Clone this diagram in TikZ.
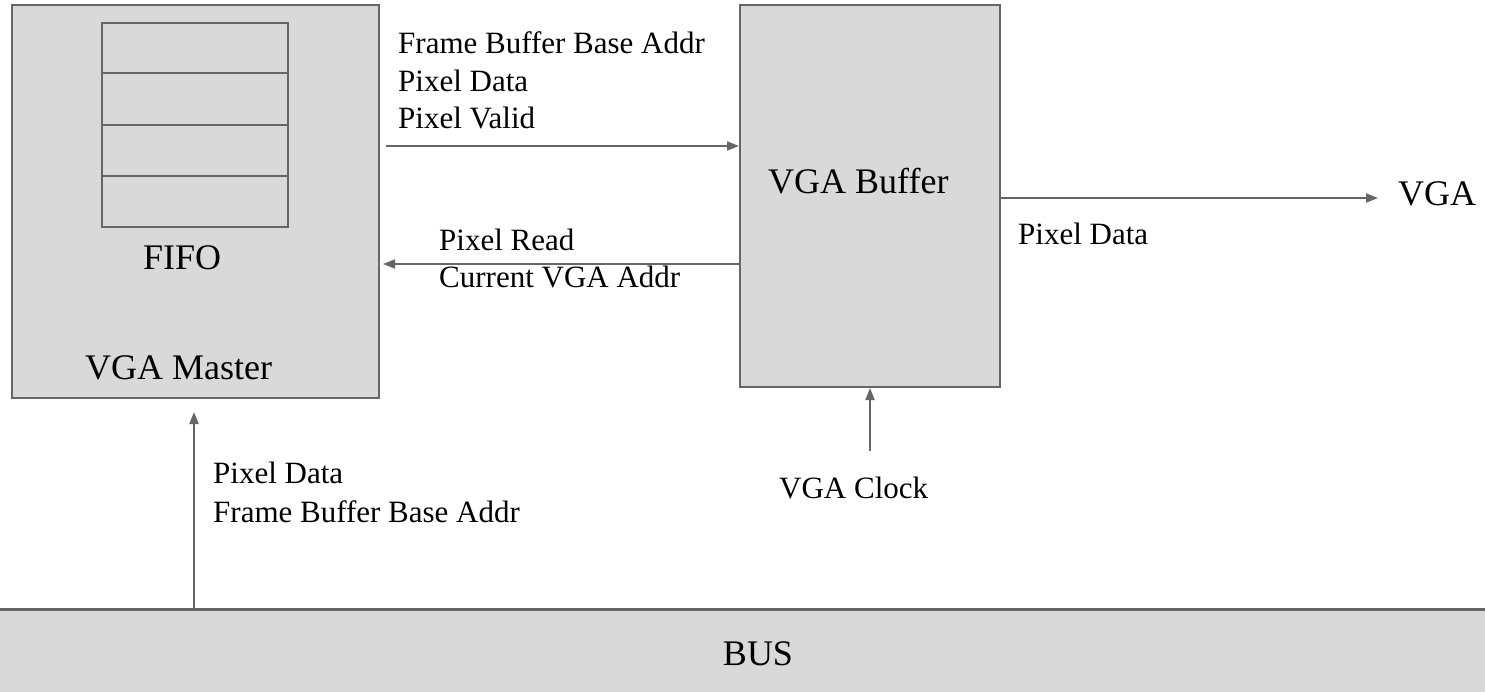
\documentclass[tikz,border=0pt]{standalone}
\usepackage{fontspec}
\setmainfont{Liberation Serif}
\usetikzlibrary{arrows.meta,calc}
\definecolor{edgegray}{RGB}{102,102,102}
\definecolor{boxfill}{RGB}{217,217,217}
\tikzset{
  blockbox/.style={draw=edgegray, fill=boxfill, line width=2pt, inner sep=0pt},
  fifobox/.style={draw=edgegray, line width=2pt, inner sep=0pt},
  bigtext/.style={inner sep=0pt, anchor=base west, font=\fontsize{36}{43}\selectfont},
  smalltext/.style={inner sep=0pt, anchor=base west, font=\fontsize{31}{37.5}\selectfont},
  sigarrow/.style={draw=edgegray, line width=1.8pt, -{Triangle[length=12pt,width=9pt]}},
}
\begin{document}
\begin{tikzpicture}[x=1pt,y=-1pt]
\useasboundingbox (0,0) rectangle (1485,692);

% blocks
\node[blockbox, minimum width=367pt, minimum height=393pt] (master) at (195.5,201.5) {};
\node[fifobox, minimum width=186pt, minimum height=204pt] (fifo) at (195,125) {};
\foreach \f in {0.25,0.5,0.75}
  \draw[edgegray, line width=2pt] ($(fifo.north west)!\f!(fifo.south west)$) -- ($(fifo.north east)!\f!(fifo.south east)$);
\node[bigtext] (fifolbl) at (143,270) {FIFO};
\node[bigtext] (masterlbl) at (85,379) {VGA Master};

\node[blockbox, minimum width=260pt, minimum height=382pt] (buffer) at (870,196) {};
\node[bigtext] (bufferlbl) at (768,194) {VGA Buffer};

\node[bigtext] (vga) at (1398,206) {VGA};

% bus
\node[fill=boxfill, inner sep=0pt, minimum width=1540pt, minimum height=100pt, anchor=north] (bus) at (758,609) {};
\draw[edgegray, line width=3pt] (bus.north west) -- (bus.north east);
\node[bigtext, anchor=base] (buslbl) at (758,665) {BUS};

% levels
\coordinate (yone) at (0,146);
\coordinate (ytwo) at (0,264);
\coordinate (ythree) at (0,198);
\coordinate (clk) at (870,451);

% connectors
\draw[sigarrow, shorten <=6pt] (master.east |- yone) -- (buffer.west |- yone);
\draw[sigarrow, shorten >=3pt] (buffer.west |- ytwo) -- (master.east |- ytwo);
\draw[sigarrow, shorten >=20pt] (buffer.east |- ythree) -- (vga.west |- ythree);
\draw[sigarrow] (clk) -- (buffer.south);
\draw[sigarrow, shorten >=13pt] ($(master.south |- bus.north)+(-1.5,0)$) -- ($(master.south)+(-1.5,0)$);

% labels
\node[smalltext] (t1) at (398,54) {Frame Buffer Base Addr};
\node[smalltext] (t2) at (398,92) {Pixel Data};
\node[smalltext] (t3) at (398,129) {Pixel Valid};
\node[smalltext] (r1) at (439,251) {Pixel Read};
\node[smalltext] (r2) at (439,288) {Current VGA Addr};
\node[smalltext] (o1) at (1018,245) {Pixel Data};
\node[smalltext] (b1) at (213,483) {Pixel Data};
\node[smalltext] (b2) at (213,522) {Frame Buffer Base Addr};
\node[smalltext] (c1) at (779,498) {VGA Clock};
\end{tikzpicture}
\end{document}
